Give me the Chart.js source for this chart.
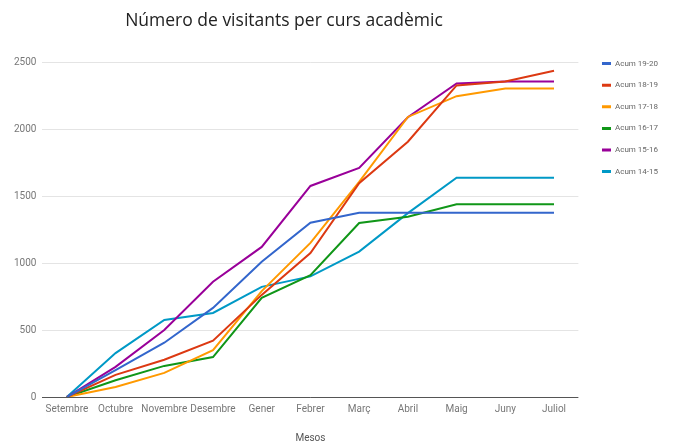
<!DOCTYPE html>
<html>
<head>
<meta charset="utf-8">
<script src="https://cdn.jsdelivr.net/npm/chart.js@4.4.0/dist/chart.umd.min.js"></script>
<style>
  body { margin: 0; background: #fff; }
  #wrap { width: 674px; height: 444px; }
</style>
</head>
<body>
<div id="wrap"><canvas id="myChart" width="674" height="444"></canvas></div>
<script>
// Mesos del curs
var mesos = ['Setembre', 'Octubre', 'Novembre', 'Desembre', 'Gener', 'Febrer', 'Març', 'Abril', 'Maig', 'Juny', 'Juliol'];

// Visitants acumulats per curs
var acum1920 = [0, 200, 405, 665, 1010, 1300, 1375, 1375, 1375, 1375, 1375];
var acum1819 = [0, 165, 278, 420, 762, 1075, 1595, 1905, 2325, 2355, 2435];
var acum1718 = [0, 75, 180, 350, 790, 1150, 1605, 2090, 2245, 2303, 2303];
var acum1617 = [0, 125, 232, 298, 740, 910, 1298, 1345, 1438, 1438, 1438];
var acum1516 = [0, 225, 500, 860, 1120, 1575, 1710, 2088, 2340, 2355, 2355];
var acum1415 = [0, 328, 575, 627, 822, 900, 1085, 1372, 1637, 1637, 1637];

var noms = ['Acum 19-20', 'Acum 18-19', 'Acum 17-18', 'Acum 16-17', 'Acum 15-16', 'Acum 14-15'];
var colors = ['#3366cc', '#dc3912', '#ff9900', '#109618', '#990099', '#0099c6'];
var series = [acum1920, acum1819, acum1718, acum1617, acum1516, acum1415];

var yTicks = [0, 500, 1000, 1500, 2000, 2500];

const datasets = series.map((vals, i) => ({
    label: noms[i],
    data: vals,
    borderColor: colors[i],
    backgroundColor: colors[i],
    borderWidth: 2,
    pointRadius: 0,
    tension: 0,
    fill: false
}));

// Petits ajustos de posició del títol i la llegenda
const nudge = {
    id: 'nudge',
    beforeDraw(chart) {
        const t = chart.titleBlock;
        t.left = 0;
        t.right = 568;
        const lg = chart.legend;
        const w = lg.width;
        lg.left = chart.chartArea.right + 10;
        lg.right = lg.left + w;
        lg.top = chart.chartArea.top - 16;
    }
};

const tickFont = { family: 'Roboto', size: 10 };

const config = {
    type: 'line',
    data: { labels: mesos, datasets: datasets },
    options: {
        responsive: false,
        animation: false,
        layout: { padding: { left: 8, right: 16, top: 0, bottom: 0 } },
        plugins: {
            title: {
                display: true,
                text: 'Número de visitants per curs acadèmic',
                color: '#222',
                font: { family: 'Open Sans', size: 17.5, weight: 'normal' },
                padding: { top: 11, bottom: 30 }
            },
            legend: {
                position: 'right',
                align: 'start',
                labels: {
                    boxWidth: 9,
                    boxHeight: 3,
                    padding: 13.6,
                    color: '#666',
                    font: { family: 'Roboto', size: 8 },
                    generateLabels: chart => Chart.defaults.plugins.legend.labels.generateLabels(chart)
                        .map(l => Object.assign(l, { lineWidth: 0 }))
                }
            },
            tooltip: { enabled: false }
        },
        scales: {
            x: {
                offset: true,
                grid: { display: false, drawTicks: false },
                border: { display: false },
                ticks: { color: '#777', font: tickFont, padding: 6, maxRotation: 0, autoSkip: false },
                title: {
                    display: true,
                    text: 'Mesos',
                    color: '#555',
                    font: tickFont,
                    padding: { top: 11, bottom: 0 }
                }
            },
            y: {
                min: 0,
                max: 2500,
                afterBuildTicks: axis => { axis.ticks = yTicks.map(v => ({ value: v })); },
                grid: {
                    drawTicks: false,
                    color: ctx => (ctx.tick && ctx.tick.value === 0) ? '#555' : '#e4e4e4',
                    lineWidth: 1
                },
                border: { display: false },
                ticks: { color: '#777', font: tickFont, padding: 6, callback: v => String(v) }
            }
        }
    },
    plugins: [nudge]
};

const ctx = document.getElementById('myChart').getContext('2d');
const myChart = new Chart(ctx, config);
</script>
</body>
</html>
